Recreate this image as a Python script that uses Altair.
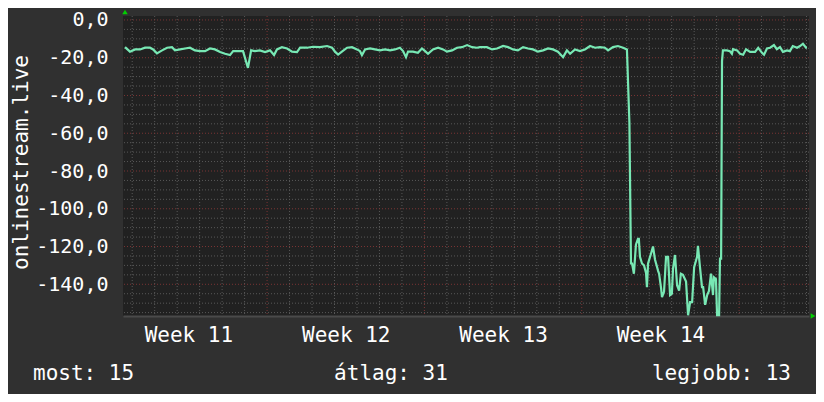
import json
import altair as alt
import pandas as pd

# ---------------- data ----------------
# time in days since the Monday that starts "Week 11"
days = [
    0.68, 0.90, 1.13, 1.35, 1.57, 1.79, 1.93, 2.10, 2.33, 2.55,
    2.77, 2.90, 3.13, 3.35, 3.57, 3.79, 4.02, 4.24, 4.46, 4.68,
    4.91, 5.13, 5.35, 5.49, 5.71, 5.93, 6.06, 6.15, 6.29, 6.46,
    6.68, 6.91, 7.13, 7.31, 7.44, 7.66, 7.89, 8.11, 8.33, 8.47,
    8.78, 9.04, 9.35, 9.67, 9.89, 10.02, 10.16, 10.33, 10.56, 10.78,
    11.00, 11.13, 11.22, 11.36, 11.58, 11.80, 12.02, 12.25, 12.47, 12.69,
    12.91, 13.05, 13.18, 13.27, 13.49, 13.71, 13.89, 14.03, 14.16, 14.38,
    14.61, 14.83, 15.00, 15.23, 15.45, 15.67, 15.90, 16.12, 16.34, 16.47,
    16.78, 17.01, 17.23, 17.50, 17.72, 17.94, 18.16, 18.39, 18.61, 18.83,
    19.05, 19.28, 19.50, 19.72, 19.94, 20.17, 20.34, 20.48, 20.70, 20.92,
    21.14, 21.37, 21.59, 21.81, 22.03, 22.17, 22.39, 22.61, 22.84, 23.01,
    23.12, 23.19, 23.24, 23.32, 23.41, 23.50, 23.54, 23.59, 23.68, 23.77,
    23.86, 23.90, 23.95, 24.08, 24.17, 24.26, 24.40, 24.44, 24.53, 24.57,
    24.66, 24.75, 24.84, 24.93, 25.01, 25.06, 25.15, 25.24, 25.33, 25.41,
    25.50, 25.64, 25.73, 25.82, 25.91, 26.00, 26.13, 26.17, 26.26, 26.35,
    26.40, 26.49, 26.58, 26.66, 26.75, 26.84, 26.88, 26.97, 27.02, 27.11,
    27.15, 27.20, 27.24, 27.28, 27.46, 27.59, 27.68, 27.73, 27.91, 28.04,
    28.18, 28.31, 28.49, 28.71, 28.85, 29.02, 29.11, 29.24, 29.38, 29.55,
    29.68, 29.82, 29.95, 30.13, 30.26, 30.39, 30.58, 30.71, 30.84, 30.98,
    31.02,
]
values = [
    -14.4, -16.8, -15.6, -15.6, -14.7, -14.7, -15.6, -17.7, -16.1, -14.7,
    -14.4, -16.1, -15.6, -15.1, -14.7, -16.1, -16.5, -16.5, -15.1, -15.6,
    -17.0, -17.9, -18.6, -16.5, -16.5, -16.5, -21.8, -25.4, -16.1, -16.5,
    -16.1, -17.0, -16.1, -18.6, -15.6, -14.4, -15.1, -16.8, -17.0, -14.7,
    -14.7, -14.2, -14.4, -13.8, -14.7, -16.8, -18.3, -16.8, -14.7, -14.4,
    -15.6, -16.5, -18.6, -15.6, -15.1, -15.6, -16.1, -15.6, -16.1, -15.6,
    -14.7, -16.5, -19.7, -16.8, -16.8, -17.4, -15.1, -16.5, -17.9, -15.6,
    -14.7, -15.6, -16.8, -16.1, -14.7, -14.4, -13.3, -14.4, -14.7, -14.4,
    -14.4, -15.6, -15.1, -13.8, -14.4, -15.6, -16.1, -14.4, -15.1, -15.6,
    -16.8, -16.1, -15.1, -15.6, -16.8, -19.7, -16.1, -17.9, -15.6, -16.5,
    -15.6, -13.8, -14.7, -14.4, -14.7, -16.1, -14.4, -13.8, -14.7, -15.6,
    -54.6, -129.0, -129.0, -134.4, -119.0, -116.0, -116.0, -125.5, -129.0, -130.0,
    -134.0, -141.5, -129.0, -123.8, -120.0, -127.0, -133.0, -134.4, -142.2, -146.8,
    -144.0, -125.5, -125.5, -145.7, -145.0, -131.7, -124.5, -140.5, -143.3, -134.4,
    -135.0, -138.6, -156.4, -149.5, -149.5, -130.9, -125.5, -119.7, -130.9, -141.5,
    -141.5, -150.9, -145.7, -143.5, -134.4, -145.7, -136.3, -137.2, -156.4, -156.4,
    -126.4, -126.4, -21.8, -16.1, -16.1, -16.5, -17.9, -15.5, -16.1, -17.9,
    -18.4, -15.5, -16.9, -16.9, -14.7, -17.4, -18.4, -15.1, -14.7, -13.3,
    -15.5, -14.4, -16.9, -16.1, -16.5, -13.8, -14.7, -13.8, -12.6, -14.7,
    -14.7,
]

week_labels = ["Week 11", "Week 12", "Week 13", "Week 14"]
week_label_days = [3.5, 10.5, 17.5, 24.5]
week_boundaries = [7, 14, 21, 28]
minor_days = [d for d in range(1, 32) if d % 7]
major_levels = list(range(-140, 1, 20))
minor_levels = [v for v in range(-155, 1, 5) if v % 20]

stat_most = "most: 15"
stat_avg = "átlag: 31"
stat_best = "legjobb: 13"
y_title = "onlinestream.live"

# ---------------- styling ----------------
FONT = "DejaVu Sans Mono"
BG = "#303030"
PLOT_BG = "#212121"
LINE = "#78e8b4"
MINOR = "#585858"
MAJOR = "#7a3434"
ARROW = "#00d000"

xs = alt.Scale(domain=[0.59, 31.11], nice=False, zero=False)
ys = alt.Scale(domain=[-156.8, 2.1], nice=False, zero=False)

label_expr = json.dumps(week_labels) + "[floor(datum.value / 7)]"

x_axis = alt.Axis(
    values=week_label_days, labelExpr=label_expr, grid=False,
    ticks=False, domain=True, domainColor="#4a4a4a", domainWidth=2,
    labelPadding=8, labelFontSize=21, title="",
)
y_axis = alt.Axis(
    values=major_levels, labelExpr="datum.value + ',0'", grid=False,
    ticks=False, domain=False, labelPadding=15, labelFontSize=20,
    title=y_title, titleFontSize=21, titleX=-102, titleY=146,
    titleAngle=270, titleAlign="center", titleBaseline="middle",
)

series = pd.DataFrame({"day": days, "value": values})

minor_v = alt.Chart(pd.DataFrame({"day": minor_days})).mark_rule(
    color=MINOR, strokeDash=[1, 2], strokeWidth=1
).encode(x=alt.X("day:Q", scale=xs, axis=x_axis))

minor_h = alt.Chart(pd.DataFrame({"value": minor_levels})).mark_rule(
    color=MINOR, strokeDash=[1, 2], strokeWidth=1
).encode(y=alt.Y("value:Q", scale=ys, axis=y_axis))

major_v = alt.Chart(pd.DataFrame({"day": week_boundaries})).mark_rule(
    color=MAJOR, strokeDash=[1, 2], strokeWidth=1
).encode(x=alt.X("day:Q", scale=xs, axis=x_axis))

major_h = alt.Chart(pd.DataFrame({"value": major_levels})).mark_rule(
    color=MAJOR, strokeDash=[1, 2], strokeWidth=1
).encode(y=alt.Y("value:Q", scale=ys, axis=y_axis))

line = alt.Chart(series).mark_line(
    color=LINE, strokeWidth=2.2, interpolate="linear"
).encode(
    x=alt.X("day:Q", scale=xs, axis=x_axis),
    y=alt.Y("value:Q", scale=ys, axis=y_axis),
)

one = pd.DataFrame({"k": [0]})
arrow_up = alt.Chart(one).mark_point(
    shape="triangle-up", filled=True, color=ARROW, size=30, opacity=1
).encode(x=alt.value(2), y=alt.value(-4))
arrow_right = alt.Chart(one).mark_point(
    shape="triangle-right", filled=True, color=ARROW, size=30, opacity=1
).encode(x=alt.value(690), y=alt.value(300))

def stat_text(txt, xpos, align):
    return alt.Chart(one).mark_text(
        font=FONT, fontSize=21, color="#ffffff", align=align, baseline="middle"
    ).encode(x=alt.value(xpos), y=alt.value(358), text=alt.value(txt))

chart = alt.layer(
    minor_v, minor_h, major_v, major_h, line,
    arrow_up, arrow_right,
    stat_text(stat_most, -90, "left"),
    stat_text(stat_avg, 268, "center"),
    stat_text(stat_best, 668, "right"),
).properties(
    width=686, height=300,
    autosize=alt.AutoSizeParams(type="none"),
    padding={"left": 115, "top": 8, "right": 7, "bottom": 78},
).configure(
    background=BG,
).configure_view(
    fill=PLOT_BG, strokeWidth=0,
).configure_axis(
    labelFont=FONT, titleFont=FONT, labelColor="#ffffff", titleColor="#ffffff",
    titleFontWeight="normal",
)

chart.save("out.html", embed_options={"renderer": "svg", "actions": False})
